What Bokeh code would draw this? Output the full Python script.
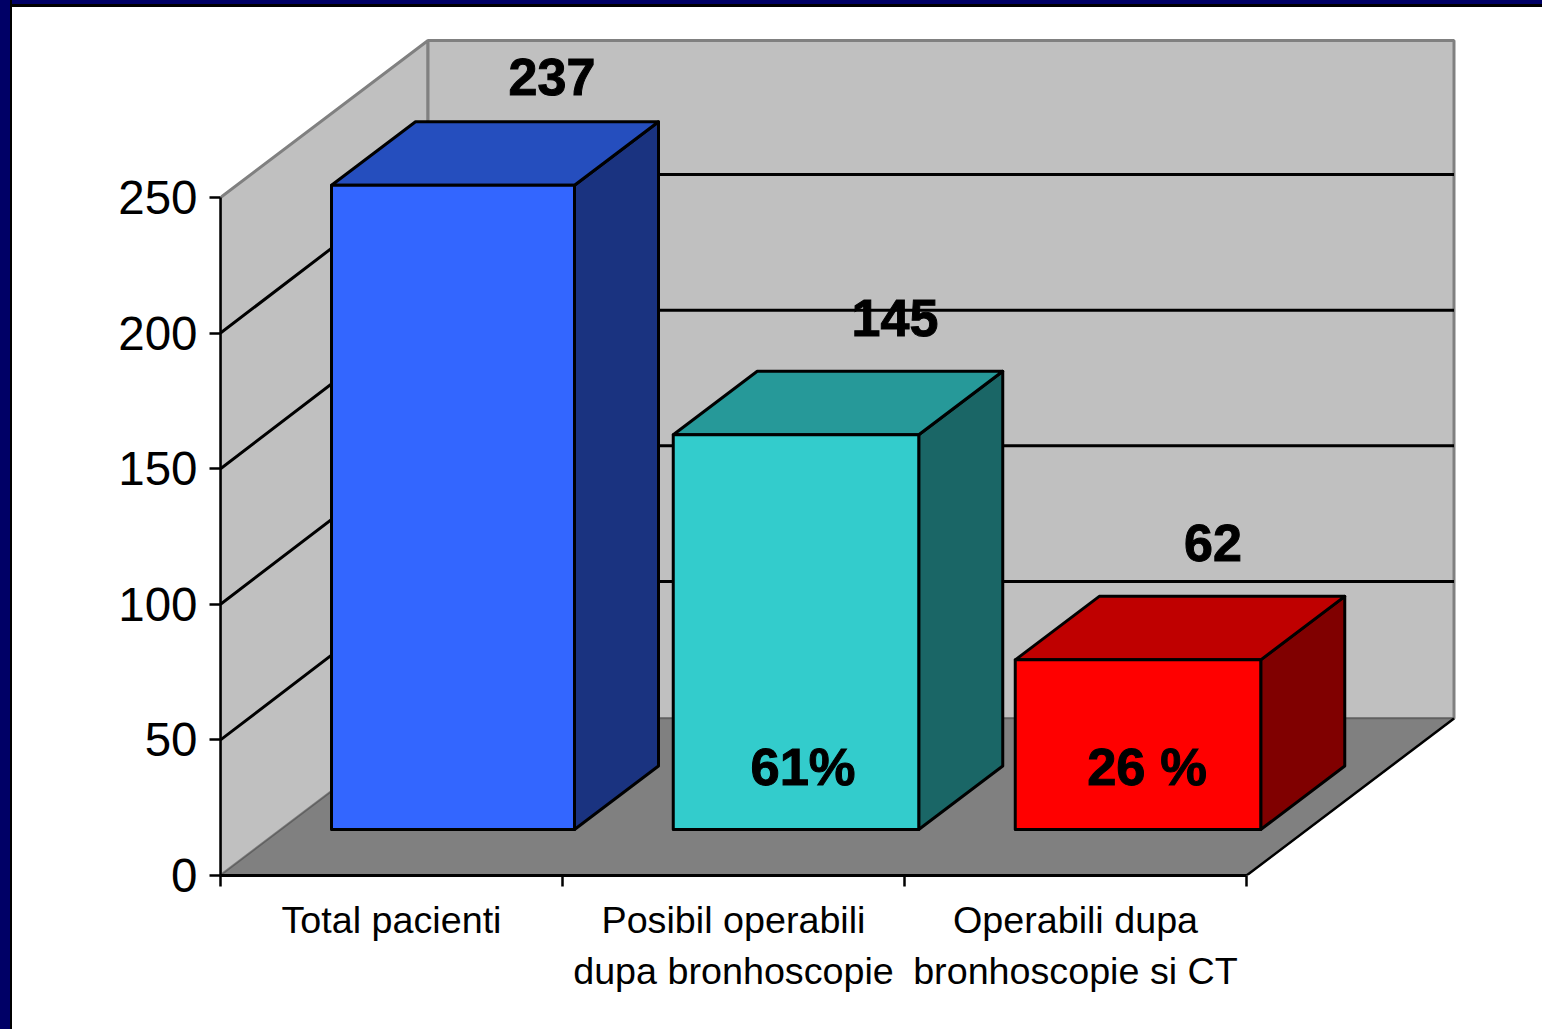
from bokeh.plotting import figure
from bokeh.embed import file_html
from bokeh.resources import INLINE
from bokeh.core.properties import value
from bokeh.models import LinearAxis, FixedTicker, Range1d

categories = ["Total pacienti", "Posibil operabili\ndupa bronhoscopie", "Operabili dupa\nbronhoscopie si CT"]
totals = [237, 145, 62]
percent_labels = [None, "61%", "26 %"]
y_ticks = [0, 50, 100, 150, 200, 250]
y_top = 250

front_colors = ["#3366FF", "#33CCCC", "#FF0000"]
top_colors = ["#254EBE", "#269999", "#BF0000"]
side_colors = ["#1A3380", "#1A6666", "#800000"]

PX_X = 342.0
PX_Y = 2.712
W, H = 1542, 1029
L, B, T = 220, 875, 7

WALL_DX, WALL_DY = 207.5 / PX_X, 157 / PX_Y
GRID_DY = 158.5 / PX_Y
BAR_OFF_X, BAR_OFF_Y = 62.5 / PX_X, 46 / PX_Y
BAR_DX, BAR_DY = 84 / PX_X, 63.5 / PX_Y
BAR_W = [243 / PX_X, 245.5 / PX_X, 245.5 / PX_X]
BAR_SHIFT = [-1 / PX_X, 0, 0]
BAR_LIFT = 1.5 / PX_Y
LABEL_DX = [99 / PX_X, 99 / PX_X, 75 / PX_X]
LABEL_BASE = [45, 53, 53]
PCT_CX = [0, 7 / PX_X, 9 / PX_X]

slide_frame = ("linear-gradient(#000066,#000066) 0 0/10px 100% no-repeat,"
               "linear-gradient(#000,#000) 10px 0/2px 100% no-repeat,"
               "linear-gradient(#000066,#000066) 0 0/100% 4px no-repeat,"
               "linear-gradient(#000,#000) 10px 4px/100% 3px no-repeat,"
               "#fff")

p = figure(width=W, height=H, output_backend="svg", toolbar_location=None,
           x_range=Range1d(0, (W - L) / PX_X), y_range=Range1d(0, (B - T) / PX_Y),
           x_axis_type=None, y_axis_type=None,
           min_border_left=L, min_border_right=0, min_border_top=T,
           min_border_bottom=H - B, background_fill_color=None,
           border_fill_color=None, outline_line_color=None,
           styles={"background": slide_frame})
p.grid.visible = False

n = len(categories)
# walls and floor
p.patch([0, WALL_DX, WALL_DX, 0], [0, WALL_DY, y_top + WALL_DY, y_top],
        fill_color="#C0C0C0", line_color="#808080", line_width=3)
p.patch([WALL_DX, n + WALL_DX, n + WALL_DX, WALL_DX],
        [WALL_DY, WALL_DY, y_top + WALL_DY, y_top + WALL_DY],
        fill_color="#C0C0C0", line_color="#808080", line_width=3)
p.patch([0, WALL_DX, n + WALL_DX, n], [0, WALL_DY, WALL_DY, 0],
        fill_color="#808080", line_color="#606060", line_width=1.5)
p.line([n, n + WALL_DX], [0, WALL_DY], line_color="black", line_width=2.5)

# gridlines
for t in y_ticks[1:-1]:
    p.line([0, WALL_DX, n + WALL_DX], [t, t + GRID_DY, t + GRID_DY],
           line_color="black", line_width=3)

# bars
for i, v in enumerate(totals):
    x0 = i + 0.5 - BAR_W[i] / 2 + BAR_OFF_X + BAR_SHIFT[i]
    x1 = x0 + BAR_W[i]
    y0 = BAR_OFF_Y
    y1 = BAR_OFF_Y + v + BAR_LIFT
    kw = dict(line_color="black", line_width=3, line_join="round")
    p.patch([x1, x1 + BAR_DX, x1 + BAR_DX, x1], [y0, y0 + BAR_DY, y1 + BAR_DY, y1],
            fill_color=side_colors[i], **kw)
    p.patch([x0, x0 + BAR_DX, x1 + BAR_DX, x1], [y1, y1 + BAR_DY, y1 + BAR_DY, y1],
            fill_color=top_colors[i], **kw)
    p.patch([x0, x1, x1, x0], [y0, y0, y1, y1], fill_color=front_colors[i], **kw)
    p.text([(x0 + x1) / 2 + LABEL_DX[i]], [y1 + BAR_DY + LABEL_BASE[i] / PX_Y], text=[str(v)],
           text_font=value("Liberation Sans"), text_font_style="bold",
           text_font_size="52px", text_align="center", text_baseline="alphabetic",
           text_color="black", text_outline_color="black")
    if percent_labels[i]:
        p.text([(x0 + x1) / 2 + PCT_CX[i]], [y0 + 23.2], text=[percent_labels[i]],
               text_font=value("Liberation Sans"), text_font_style="bold",
               text_font_size="52.5px", text_align="center", text_baseline="alphabetic",
               text_color="black", text_outline_color="black")

# axes
yaxis = LinearAxis(ticker=FixedTicker(ticks=y_ticks), bounds=(0, y_top),
                   axis_line_color="black", axis_line_width=2.5,
                   major_tick_line_color="black", major_tick_line_width=2.5,
                   major_tick_in=0, major_tick_out=11, minor_tick_out=0, minor_tick_in=0,
                   major_label_standoff=12,
                   major_label_text_font="Liberation Sans",
                   major_label_text_font_size="47.5px", major_label_text_color="black")
p.add_layout(yaxis, "left")

xaxis = LinearAxis(ticker=FixedTicker(ticks=[i + 0.5 for i in range(n)],
                                      minor_ticks=list(range(n + 1))),
                   bounds=(0, n),
                   major_label_overrides={i + 0.5: c for i, c in enumerate(categories)},
                   axis_line_color="black", axis_line_width=3,
                   major_tick_line_color=None, major_tick_in=0, major_tick_out=0,
                   minor_tick_line_color="black", minor_tick_line_width=2.5,
                   minor_tick_in=0, minor_tick_out=11,
                   major_label_standoff=12,
                   major_label_text_font="Liberation Sans",
                   major_label_text_font_size="37.7px", major_label_text_color="black",
                   major_label_text_line_height=1.23)
p.add_layout(xaxis, "below")

open("out.html", "w").write(file_html(p, INLINE))
